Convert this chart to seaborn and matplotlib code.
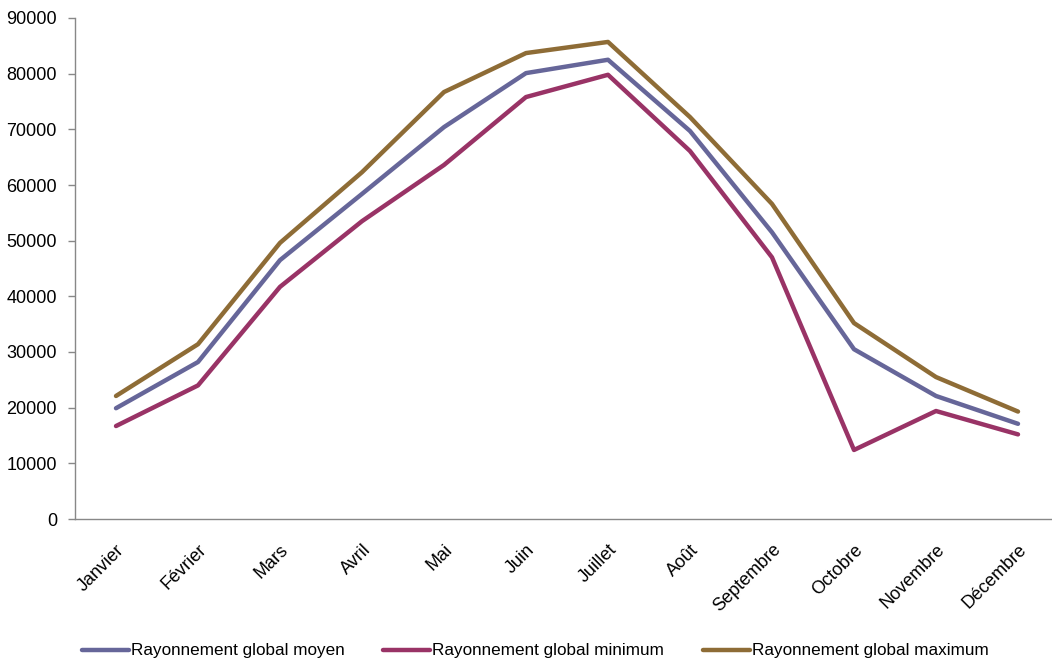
import pandas as pd
import matplotlib
matplotlib.use("Agg")
import matplotlib.pyplot as plt
import seaborn as sns

mois = ["Janvier", "Février", "Mars", "Avril", "Mai", "Juin", "Juillet",
        "Août", "Septembre", "Octobre", "Novembre", "Décembre"]
moyen = [19900, 28200, 46500, 58400, 70400, 80100, 82500, 69700, 51500, 30500, 22100, 17100]
minimum = [16700, 24000, 41700, 53500, 63600, 75800, 79800, 66100, 47000, 12400, 19400, 15200]
maximum = [22100, 31400, 49600, 62300, 76700, 83700, 85700, 72200, 56600, 35200, 25500, 19300]

series = ["Rayonnement global moyen", "Rayonnement global minimum", "Rayonnement global maximum"]
couleurs = ["#666699", "#993366", "#8E6C36"]

df = pd.DataFrame({"Mois": mois * 3,
                   "idx": list(range(12)) * 3,
                   "Valeur": moyen + minimum + maximum,
                   "Serie": [s for s in series for _ in range(12)]})

sns.set_theme(style="white")
plt.rcParams["font.family"] = ["Liberation Sans", "DejaVu Sans"]
plt.rcParams["text.color"] = "black"
plt.rcParams["xtick.color"] = "black"
plt.rcParams["ytick.color"] = "black"

fig = plt.figure(figsize=(10.52, 6.61), dpi=100)
ax = fig.add_axes([75 / 1052, 1 - 519 / 661, 984 / 1052, 501 / 661])

sns.lineplot(data=df, x="idx", y="Valeur", hue="Serie", hue_order=series,
             palette=couleurs, linewidth=3.2, ax=ax, legend=True)

ax.set_xlim(-0.5, 11.5)
ax.set_ylim(0, 90000)
ax.set_yticks(range(0, 90001, 10000))
ax.set_yticklabels([str(v) for v in range(0, 90001, 10000)], fontsize=13)
ax.set_xticks(range(12))
ax.set_xticklabels(mois, rotation=45, ha="right", rotation_mode="anchor", fontsize=13)
ax.set_xticks([i - 0.5 for i in range(13)], minor=True)
ax.tick_params(axis="x", which="major", length=0, pad=16)
ax.tick_params(axis="x", which="minor", length=5, direction="out", color="#888888", width=1)
ax.tick_params(axis="y", length=5, direction="out", color="#888888", labelcolor="black",
               width=1, left=True, pad=8)
ax.tick_params(axis="x", labelcolor="black")
ax.set_xlabel("")
ax.set_ylabel("")
for s in ["top", "right"]:
    ax.spines[s].set_visible(False)
for s in ["left", "bottom"]:
    ax.spines[s].set_color("#888888")
    ax.spines[s].set_linewidth(1)

handles, labels = ax.get_legend_handles_labels()
ax.get_legend().remove()
fig.legend(handles, labels, loc="center left", bbox_to_anchor=(82 / 1052, 1 - 651 / 661),
           ncol=3, frameon=False, fontsize=12.3, handlelength=2.75, handletextpad=0.12,
           columnspacing=2.25, borderpad=0, borderaxespad=0)

fig.savefig("out.png", dpi=100)
